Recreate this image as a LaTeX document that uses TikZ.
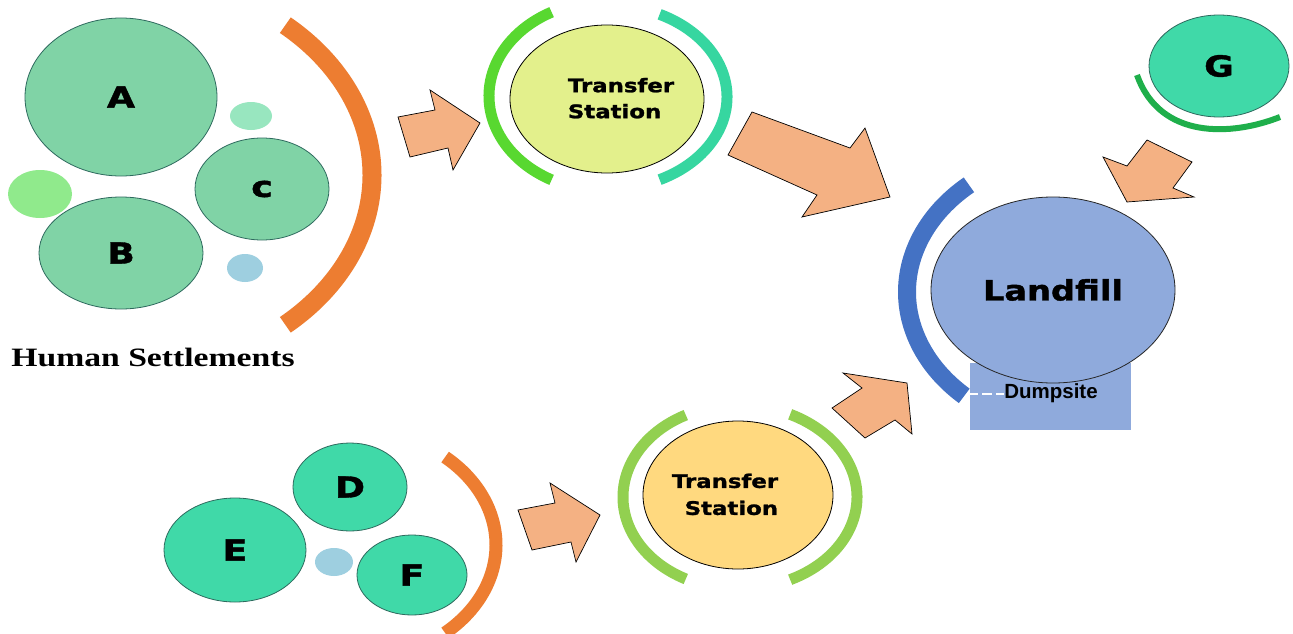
\documentclass[tikz,border=0pt]{standalone}
\usepackage{fontspec}
\usepackage{graphicx}
\usetikzlibrary{shapes.geometric}
\newfontfamily\vfont{DejaVu Sans}[BoldFeatures={FakeBold=1.3}]
\newfontfamily\afont{Liberation Sans}
\newfontfamily\tfont{Liberation Serif}
\newcommand{\hs}[1]{\scalebox{1.27}[1]{#1}}
\newcommand{\lab}[1]{\scalebox{1.25}[1]{\fontsize{29}{30}\selectfont #1}}
\definecolor{mintA}{HTML}{80D3A6}
\definecolor{tealG}{HTML}{40D9A8}
\definecolor{strokeC}{HTML}{2E6A5E}
\definecolor{orangeC}{HTML}{ED7D31}
\definecolor{arrowC}{HTML}{F4B183}
\definecolor{tsOne}{HTML}{E3F08C}
\definecolor{tsTwo}{HTML}{FFD97F}
\definecolor{landC}{HTML}{8FAADC}
\definecolor{blueArc}{HTML}{4472C4}
\definecolor{arcGreenA}{HTML}{58D830}
\definecolor{arcTeal}{HTML}{36D6A0}
\definecolor{arcLime}{HTML}{92D050}
\definecolor{arcG}{HTML}{1FAF4B}
\definecolor{dotMint}{HTML}{98E6BF}
\definecolor{dotGreen}{HTML}{90EA8C}
\definecolor{dotBlue}{HTML}{9ECFE0}
\begin{document}
\begin{tikzpicture}[x=1pt,y=-1pt,
  blob/.style={ellipse, inner sep=0pt, draw=strokeC, line width=0.8pt, font=\vfont\bfseries},
  deco/.style={ellipse, inner sep=0pt, draw=none},
  blockarrow/.style={fill=arrowC, draw=black, line width=0.7pt, line join=miter},
  band/.style={line cap=butt}]
\useasboundingbox (0,0) rectangle (1293,634);
\fill[white] (0,0) rectangle (1293,634);

% decorative bands
\draw[band, orangeC, line width=19pt] (120,175) ++(-49:252pt and 198.5pt) arc[start angle=-49, end angle=49, x radius=252pt, y radius=198.5pt];
\draw[band, orangeC, line width=13pt] (348,545) ++(-49:148pt and 116.5pt) arc[start angle=-49, end angle=49, x radius=148pt, y radius=116.5pt];
\draw[band, arcGreenA, line width=11pt] (607,96) ++(118:118pt and 95pt) arc[start angle=118, end angle=242, x radius=118pt, y radius=95pt];
\draw[band, arcTeal, line width=11pt] (607,97) ++(-64:120pt and 92pt) arc[start angle=-64, end angle=64, x radius=120pt, y radius=92pt];
\draw[band, arcLime, line width=11pt] (738,497) ++(117:115pt and 92pt) arc[start angle=117, end angle=243, x radius=115pt, y radius=92pt];
\draw[band, arcLime, line width=11pt] (738,497) ++(-64:119pt and 92pt) arc[start angle=-64, end angle=64, x radius=119pt, y radius=92pt];
\draw[band, blueArc, line width=18pt] (1087,292) ++(131:180pt and 142pt) arc[start angle=131, end angle=227, x radius=180pt, y radius=142pt];
\draw[band, arcG, line width=6pt] (1137,75) .. controls (1160,140) and (1232,136) .. (1280,117);

% human settlements
\node[blob, fill=mintA, minimum width=192pt, minimum height=158pt] (A) at (121,97) {\lab{A}};
\node[deco, fill=dotMint, minimum width=42pt, minimum height=28pt] (m1) at (251,116) {};
\node[blob, fill=mintA, minimum width=134pt, minimum height=102pt] (C) at (262,189) {\lab{c}};
\node[deco, fill=dotGreen, minimum width=64pt, minimum height=48pt] (m2) at (40,194) {};
\node[blob, fill=mintA, minimum width=164pt, minimum height=112pt] (B) at (121,253) {\lab{B}};
\node[deco, fill=dotBlue, minimum width=36pt, minimum height=28pt] (m3) at (245,268) {};
\node[font=\tfont\bfseries, anchor=base, inner sep=0pt] (hs) at (153,366) {\hs{\fontsize{26.5}{30}\selectfont Human Settlements}};

\node[blob, fill=tealG, minimum width=114pt, minimum height=88pt] (D) at (350,487) {\lab{D}};
\node[blob, fill=tealG, minimum width=142pt, minimum height=104pt] (E) at (235,550) {\lab{E}};
\node[blob, fill=tealG, minimum width=110pt, minimum height=80pt] (F) at (412,575) {\lab{F}};
\node[deco, fill=dotBlue, minimum width=38pt, minimum height=28pt] (m4) at (334,562) {};

% transfer stations
\node[ellipse, inner sep=0pt, draw=black, line width=0.8pt, fill=tsOne, minimum width=194pt, minimum height=148pt] (ts1) at (607,99) {};
\node[font=\vfont\bfseries, inner sep=0pt] (ts1label) at (621,100) {\scalebox{1.22}[1]{\fontsize{18.7}{26}\selectfont\begin{tabular}{@{}l@{}}Transfer\\Station\end{tabular}}};
\node[ellipse, inner sep=0pt, draw=black, line width=0.8pt, fill=tsTwo, minimum width=190pt, minimum height=148pt] (ts2) at (738,495) {};
\node[font=\vfont\bfseries, inner sep=0pt] (ts2label) at (725,496) {\scalebox{1.22}[1]{\fontsize{18.7}{27}\selectfont\begin{tabular}{@{}r@{}}Transfer\\Station\end{tabular}}};

% landfill and dumpsite
\node[rectangle, fill=landC, draw=none, minimum width=161pt, minimum height=67pt, inner sep=0pt] (dumprect) at (1050.5,396.5) {};
\node[ellipse, inner sep=0pt, draw=black!85, line width=0.8pt, fill=landC, minimum width=244pt, minimum height=186pt, font=\vfont\bfseries] (land) at (1053,290) {\scalebox{1.2}[1]{\fontsize{28}{30}\selectfont Landfill}};
\node[font=\afont\bfseries\fontsize{20.5}{24}\selectfont, inner sep=0pt, anchor=base] (dump) at (1051,398) {Dumpsite};
\coordinate (dsend) at (968,394);
\draw[white, line width=2pt, dash pattern=on 10pt off 4pt] (dsend) -- (dsend -| dump.west);

% G
\node[blob, fill=tealG, minimum width=140pt, minimum height=102pt] (G) at (1219,66) {\lab{G}};

% block arrows
\draw[blockarrow] (398,117) -- (435,110) -- (430,90) -- (480,123) -- (453,170) -- (448,148) -- (410,157) -- cycle;
\draw[blockarrow] (728,155) -- (752,112) -- (850,148) -- (865,128) -- (890,197) -- (802,217) -- (817,195) -- cycle;
\draw[blockarrow] (518,510) -- (555,503) -- (550,483) -- (600,515) -- (576,562) -- (571,542) -- (532,550) -- cycle;
\draw[blockarrow] (832,408) -- (862,388) -- (843,373) -- (907,383) -- (912,434) -- (895,420) -- (865,438) -- cycle;
\draw[blockarrow] (1147,140) -- (1192,162) -- (1173,188) -- (1194,197) -- (1127,202) -- (1103,157) -- (1127,166) -- cycle;
\end{tikzpicture}
\end{document}
